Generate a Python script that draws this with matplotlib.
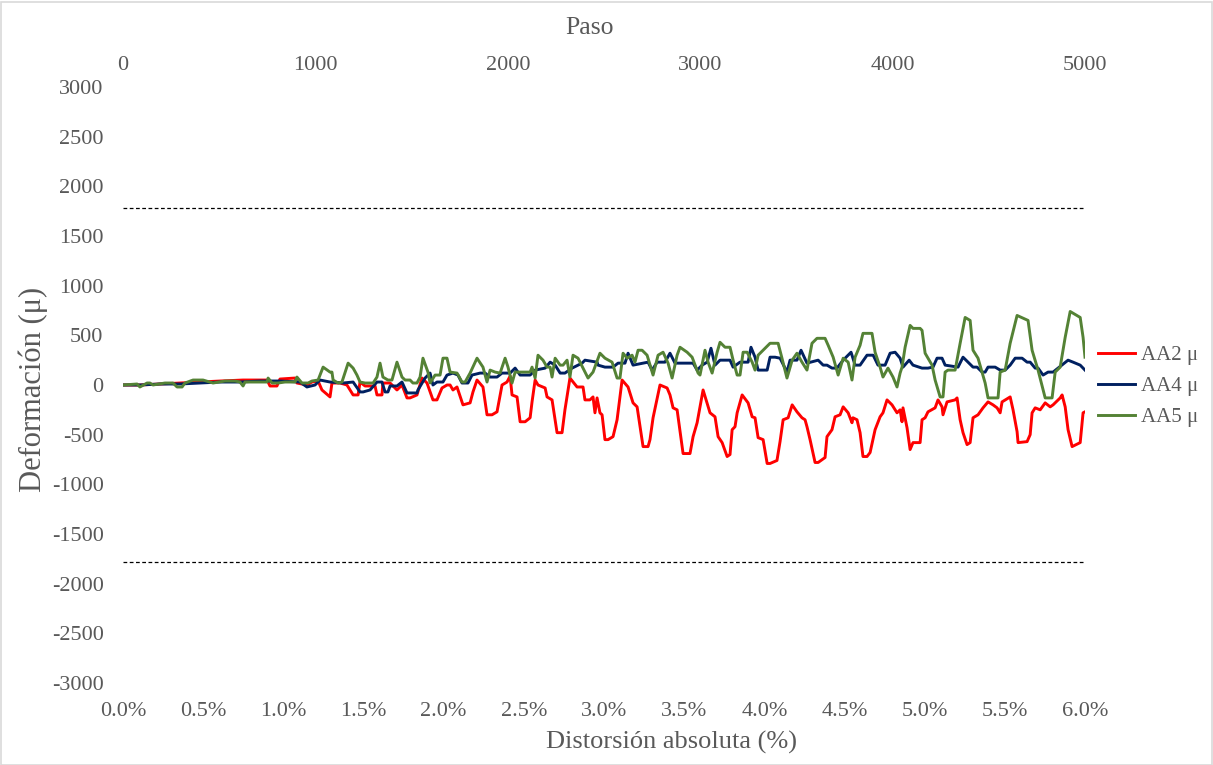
import numpy as np
import matplotlib
matplotlib.use("Agg")
import matplotlib.pyplot as plt
from matplotlib.patches import Rectangle

plt.rcParams['font.family'] = ['Liberation Serif', 'DejaVu Serif']

# ---- data: x = Paso (step), y = deformation (micro-strain) ----
aa2_step = [0, 88, 192, 296, 400, 504, 624, 749, 764, 800, 816, 894, 904, 956, 982, 1014, 1034, 1076, 1086, 1128,
            1164, 1196, 1222, 1232, 1258, 1310, 1320, 1346, 1351, 1388, 1424, 1450, 1476, 1492, 1528, 1554, 1580,
            1611, 1632, 1658, 1684, 1700, 1715, 1736, 1767, 1804, 1819, 1840, 1871, 1892, 1918, 1944, 1970, 1996,
            2012, 2022, 2048, 2064, 2090, 2116, 2126, 2142, 2157, 2194, 2204, 2230, 2256, 2282, 2297, 2323, 2360,
            2391, 2401, 2427, 2443, 2453, 2464, 2479, 2490, 2505, 2521, 2547, 2568, 2594, 2625, 2651, 2672, 2703,
            2729, 2739, 2755, 2791, 2828, 2843, 2859, 2880, 2911, 2947, 2963, 2984, 3015, 3051, 3077, 3093, 3114,
            3140, 3155, 3166, 3181, 3192, 3218, 3249, 3270, 3285, 3301, 3327, 3348, 3363, 3399, 3415, 3431, 3457,
            3478, 3503, 3529, 3545, 3555, 3571, 3597, 3613, 3649, 3659, 3685, 3701, 3727, 3743, 3769, 3789, 3794,
            3815, 3831, 3846, 3867, 3883, 3909, 3935, 3950, 3971, 3997, 4023, 4039, 4049, 4054, 4075, 4091, 4106,
            4143, 4153, 4169, 4184, 4221, 4236, 4257, 4262, 4283, 4325, 4335, 4351, 4366, 4387, 4403, 4418, 4444,
            4470, 4496, 4522, 4543, 4559, 4569, 4611, 4626, 4647, 4652, 4699, 4715, 4725, 4741, 4767, 4793, 4819,
            4834, 4871, 4881, 4897, 4912, 4933, 4975, 4990, 5000]
aa2_val = [0, 0, 10, 20, 30, 40, 50, 50, -10, -10, 60, 70, 20, 0, 30, 40, -50, -120, 20, 20,
           0, -100, -100, 30, -10, -10, -100, -100, 20, 20, -50, 0, -130, -130, -100, 70, 20,
           -150, -150, -30, 0, 0, -50, -20, -200, -180, -70, 50, -20, -300, -300, -270, 0, 30,
           90, -100, -120, -370, -370, -330, -170, 50, 0, -30, -120, -150, -480, -480, -250, 70, -20,
           -20, -150, -150, -120, -280, -130, -280, -300, -550, -550, -520, -350, 50, -20, -180, -220, -620,
           -620, -550, -330, 0, -30, -100, -230, -250, -690, -690, -520, -380, -50, -280, -320, -520, -580,
           -720, -700, -450, -420, -280, -100, -180, -320, -330, -530, -550, -790, -790, -760, -570, -350, -330,
           -200, -270, -330, -350, -420, -550, -780, -780, -730, -520, -450, -320, -300, -220, -280, -380, -330,
           -350, -480, -720, -720, -680, -450, -320, -280, -150, -200, -280, -250, -370, -230, -430, -650, -580,
           -580, -350, -330, -270, -230, -150, -220, -300, -170, -150, -130, -350, -480, -600, -580, -330, -300,
           -230, -170, -200, -230, -280, -170, -120, -250, -470, -580, -570, -500, -280, -230, -250, -180, -220,
           -200, -130, -100, -220, -450, -620, -580, -280, -270]

aa4_step = [0, 88, 192, 296, 400, 504, 608, 712, 816, 920, 956, 998, 1024, 1076, 1144, 1196, 1232, 1248, 1284,
            1320, 1346, 1362, 1377, 1388, 1424, 1450, 1476, 1528, 1533, 1570, 1596, 1611, 1632, 1663, 1684, 1715,
            1741, 1762, 1793, 1814, 1856, 1882, 1908, 1944, 1970, 2012, 2038, 2064, 2116, 2142, 2194, 2220, 2246,
            2272, 2297, 2334, 2386, 2401, 2464, 2469, 2505, 2547, 2573, 2609, 2625, 2651, 2729, 2750, 2776, 2817,
            2843, 2869, 2963, 2984, 3010, 3036, 3056, 3077, 3103, 3155, 3171, 3207, 3249, 3264, 3285, 3301, 3348,
            3363, 3389, 3415, 3451, 3467, 3503, 3524, 3555, 3613, 3639, 3659, 3685, 3711, 3743, 3784, 3805, 3831,
            3867, 3899, 3924, 3961, 3987, 4013, 4039, 4054, 4086, 4106, 4153, 4184, 4210, 4231, 4257, 4273, 4340,
            4366, 4392, 4418, 4439, 4465, 4481, 4496, 4533, 4559, 4585, 4611, 4637, 4673, 4699, 4715, 4741, 4756,
            4782, 4808, 4834, 4860, 4912, 4938, 4975, 5000]
aa4_val = [0, 0, 10, 10, 20, 30, 30, 40, 40, 30, -20, 0, 50, 30, 20, 30, -70, -70, -50,
           30, 30, -70, -70, -10, -10, 30, -80, -80, -50, 70, 120, 0, 30, 30, 100, 120,
           100, 20, 20, 100, 120, 120, 80, 80, 120, 120, 170, 100, 100, 150, 170, 230, 200,
           120, 120, 170, 220, 250, 230, 200, 180, 180, 220, 220, 320, 200, 230, 150, 230, 230,
           320, 220, 220, 150, 200, 230, 370, 200, 250, 250, 180, 230, 230, 380, 280, 150, 150,
           280, 280, 270, 130, 250, 250, 350, 220, 250, 200, 200, 170, 170, 250, 330, 200, 200,
           300, 300, 200, 200, 320, 330, 270, 180, 250, 200, 170, 170, 180, 270, 270, 200, 180,
           280, 230, 180, 180, 130, 130, 180, 180, 150, 150, 200, 270, 270, 230, 230, 170, 170,
           100, 130, 130, 170, 250, 230, 200, 150]

aa5_step = [0, 73, 88, 125, 140, 156, 218, 260, 281, 307, 322, 364, 416, 468, 530, 582, 608, 624, 634, 686,
            749, 754, 775, 806, 842, 894, 904, 930, 962, 982, 1014, 1040, 1076, 1086, 1092, 1118, 1138, 1170,
            1196, 1216, 1232, 1258, 1300, 1320, 1336, 1351, 1377, 1398, 1424, 1450, 1466, 1492, 1507, 1528, 1544,
            1559, 1585, 1596, 1622, 1648, 1663, 1684, 1700, 1736, 1762, 1778, 1804, 1840, 1871, 1892, 1908, 1934,
            1960, 1986, 2001, 2022, 2038, 2079, 2116, 2126, 2142, 2157, 2183, 2204, 2220, 2230, 2246, 2272, 2287,
            2308, 2323, 2339, 2365, 2401, 2417, 2443, 2479, 2505, 2542, 2568, 2583, 2599, 2620, 2646, 2661, 2677,
            2698, 2724, 2755, 2781, 2807, 2833, 2854, 2880, 2895, 2932, 2958, 2989, 2999, 3025, 3041, 3062, 3088,
            3103, 3129, 3155, 3171, 3192, 3207, 3223, 3244, 3270, 3285, 3301, 3337, 3363, 3405, 3425, 3451, 3478,
            3503, 3529, 3555, 3581, 3607, 3649, 3665, 3691, 3717, 3743, 3769, 3789, 3805, 3831, 3846, 3893, 3909,
            3935, 3950, 3976, 4002, 4023, 4039, 4049, 4065, 4091, 4106, 4143, 4153, 4169, 4184, 4205, 4221, 4247,
            4262, 4273, 4288, 4325, 4351, 4377, 4403, 4418, 4444, 4481, 4496, 4548, 4559, 4585, 4611, 4647, 4704,
            4725, 4756, 4793, 4829, 4845, 4871, 4897, 4923, 4975, 4990, 5000]
aa5_val = [0, 10, -20, 20, 20, 0, 20, 20, -20, -20, 20, 50, 50, 20, 40, 40, 30, -10, 30, 30,
           30, 70, 20, 20, 30, 30, 80, 20, 20, 40, 50, 180, 130, 130, 50, 20, 30, 220,
           170, 100, 30, 20, 20, 80, 220, 80, 50, 50, 230, 80, 50, 50, 20, 20, 80,
           270, 130, 20, 100, 100, 270, 270, 130, 120, 30, 30, 120, 270, 180, 30, 150, 130,
           120, 270, 180, 20, 130, 130, 130, 180, 70, 300, 250, 180, 180, 80, 270, 200, 200,
           250, 80, 300, 270, 130, 70, 130, 320, 270, 230, 70, 70, 320, 270, 300, 230, 350,
           350, 300, 100, 300, 330, 220, 70, 300, 380, 330, 280, 120, 100, 350, 230, 120, 330,
           430, 380, 380, 250, 100, 100, 330, 330, 230, 150, 300, 370, 420, 420, 270, 70, 250,
           320, 230, 150, 420, 470, 470, 400, 280, 100, 270, 230, 50, 280, 400, 520, 520, 330,
           180, 80, 170, 80, -20, 120, 180, 380, 600, 570, 570, 550, 320, 270, 200, 50, -120,
           -120, 130, 150, 150, 420, 680, 650, 350, 270, 20, -130, -130, 130, 150, 420, 700, 650,
           350, 150, -130, -130, 130, 180, 480, 740, 680, 480, 280]

limit = 1780
step_max = 5000
pct_max = 6.0
pct_ticks = np.arange(0, 6.01, 0.5)
step_ticks = np.arange(0, 5001, 1000)
y_ticks = np.arange(-3000, 3001, 500)

W, H = 1213, 765
fig = plt.figure(figsize=(W / 100, H / 100), dpi=100)
ax = fig.add_axes([123 / W, 1 - 683 / H, (1085 - 123) / W, (683 - 87) / H])

grey = '#595959'
ax.plot(aa2_step, aa2_val, color='#FF0000', lw=2.1, label='AA2 μ')
ax.plot(aa4_step, aa4_val, color='#002060', lw=2.1, label='AA4 μ')
ax.plot(aa5_step, aa5_val, color='#548235', lw=2.1, label='AA5 μ')
ax.axhline(limit, color='black', lw=0.9, ls=(0, (3, 2)))
ax.axhline(-limit, color='black', lw=0.9, ls=(0, (3, 2)))

ax.set_xlim(0, step_max)
ax.set_ylim(-3000, 3000)
ax.set_yticks(y_ticks)
ax.set_yticklabels([f'{v}' for v in y_ticks])
ax.set_xticks(pct_ticks * step_max / pct_max)
ax.set_xticklabels([f'{p:.1f}%' for p in pct_ticks])
for s in ax.spines.values():
    s.set_visible(False)
ax.tick_params(axis='both', length=0, labelsize=16, labelcolor=grey)
ax.tick_params(axis='x', pad=14)
ax.tick_params(axis='y', pad=14)

# top axis: Paso
top = ax.twiny()
top.set_xlim(0, step_max)
top.set_xticks(step_ticks)
top.set_xticklabels([f'{v}' for v in step_ticks])
top.tick_params(length=0, labelsize=16, labelcolor=grey, pad=9)
for s in top.spines.values():
    s.set_visible(False)
top.set_xlabel('Paso', fontsize=18.5, color=grey)
top.xaxis.set_label_coords(0.485, 1.099)
top.xaxis.label.set_va('center')

ax.set_xlabel('Distorsión absoluta (%)', fontsize=19, color=grey)
ax.xaxis.set_label_coords(0.570, -0.099)
ax.xaxis.label.set_va('center')
ax.set_ylabel('Deformación (μ)', fontsize=22, color=grey)
ax.yaxis.set_label_coords(-0.0936, 0.492)
ax.yaxis.label.set_va('center')

leg = ax.legend(loc='center left', bbox_to_anchor=(1.0135, 0.498), frameon=False, fontsize=15,
                labelcolor=grey, handlelength=1.8, handletextpad=0.25, labelspacing=0.55,
                borderpad=0, borderaxespad=0)

fig.patches.append(Rectangle((0.5 / W, 0.5 / H), 1 - 2 / W, 1 - 2 / H, transform=fig.transFigure,
                             fill=False, edgecolor='#D9D9D9', lw=1.2))

fig.savefig('out.png', dpi=100)
